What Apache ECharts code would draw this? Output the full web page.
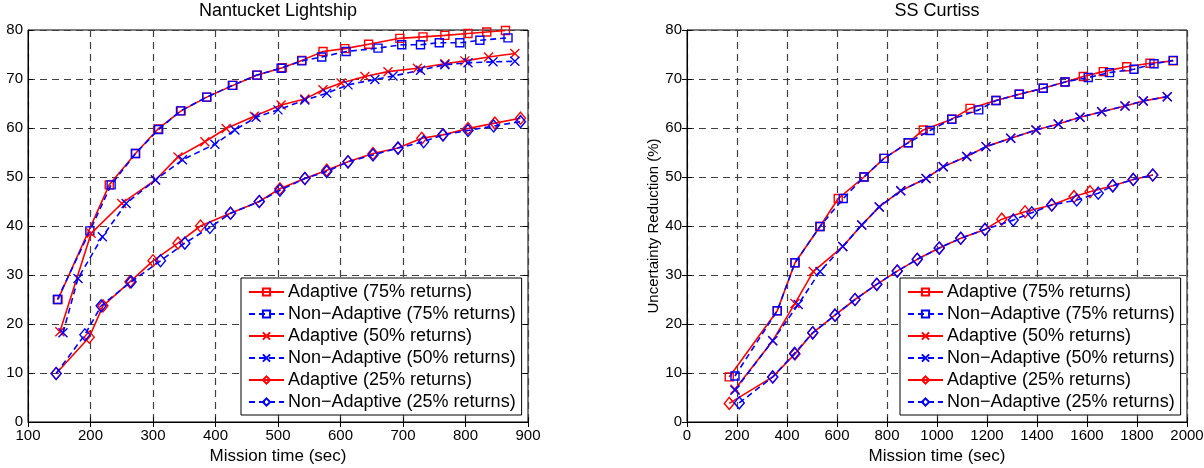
<!DOCTYPE html>
<html>
<head>
<meta charset="utf-8">
<script src="https://cdn.jsdelivr.net/npm/echarts@6/dist/echarts.min.js"></script>
<style>
html,body{margin:0;padding:0;background:#fff;}
#chart{width:1204px;height:468px;}
</style>
</head>
<body>
<div id="chart"></div>
<script>
// ---------- Data ----------
const seriesNames = [
  'Adaptive (75% returns)',
  'Non\u2212Adaptive (75% returns)',
  'Adaptive (50% returns)',
  'Non\u2212Adaptive (50% returns)',
  'Adaptive (25% returns)',
  'Non\u2212Adaptive (25% returns)'
];
const chartTitles = ['Nantucket Lightship', 'SS Curtiss'];
const xAxisName = 'Mission time (sec)';
const yAxisNameRight = 'Uncertainty Reduction (%)';
const nlXTicks = [100, 200, 300, 400, 500, 600, 700, 800, 900];
const ssXTicks = [0, 200, 400, 600, 800, 1000, 1200, 1400, 1600, 1800, 2000];
const yTicks = [0, 10, 20, 30, 40, 50, 60, 70, 80];

// Nantucket Lightship: [mission time (sec), uncertainty reduction (%)]
const nlAdaptive75 = [[148,25],[230,48.4],[272,54.8],[308,59.8],[345,63.5],[386,66.3],[428,68.7],[467,70.8],[507,72.3],[538,73.8],[572,75.6],[607,76.2],[645,77.1],[695,78.3],[732,78.6],[767,78.9],[804,79.3],[834,79.6],[864,79.9]];
const nlNonAdaptive75 = [[147,25],[199,39],[233,48.4],[272,54.8],[309,59.7],[344,63.5],[386,66.3],[427,68.7],[466,70.8],[505,72.2],[538,73.7],[570,74.5],[609,75.6],[660,76.3],[698,77],[728,77],[758,77.4],[791,77.4],[823,77.9],[868,78.4]];
const nlAdaptive50 = [[151,18.4],[201,38.5],[250,44.6],[304,49.4],[340,54.1],[383,57.2],[417,59.9],[462,62.4],[505,64.7],[543,65.9],[572,67.8],[601,69.2],[639,70.5],[676,71.5],[723,72.2],[767,73.1],[799,73.7],[837,74.5],[879,75.2]];
const nlNonAdaptive50 = [[156,18.2],[180,29.3],[219,37.8],[257,44.6],[304,49.4],[347,53.5],[399,56.7],[431,59.6],[465,62.2],[500,63.7],[543,65.7],[578,67.1],[612,68.8],[655,69.9],[684,70.6],[728,71.8],[767,72.9],[804,73.3],[844,73.5],[879,73.6]];
const nlAdaptive25 = [[145,9.9],[198,17.3],[220,23.7],[263,28.6],[300,32.9],[340,36.5],[376,40],[424,42.6],[470,45],[503,47.6],[543,49.7],[578,51.4],[612,53.1],[652,54.8],[692,55.9],[730,57.9],[764,58.6],[804,59.9],[847,61],[888,62]];
const nlNonAdaptive25 = [[145,9.9],[191,17.8],[217,23.7],[265,28.6],[312,32.9],[351,36.5],[391,39.7],[424,42.6],[470,45],[503,47.3],[543,49.7],[578,51.1],[612,53.1],[652,54.5],[692,55.9],[733,57.2],[764,58.6],[804,59.5],[845,60.4],[888,61.3]];

// SS Curtiss
const ssAdaptive75 = [[169,9.2],[361,22.7],[432,32.5],[532,39.9],[605,45.6],[708,50],[788,53.8],[885,57],[945,59.6],[1059,61.8],[1132,64],[1236,65.6],[1329,66.9],[1425,68.1],[1512,69.4],[1585,70.5],[1665,71.5],[1759,72.5],[1852,73.2],[1945,73.7]];
const ssNonAdaptive75 = [[192,9.4],[361,22.7],[432,32.5],[532,39.9],[625,45.6],[708,50],[788,53.8],[885,57],[972,59.5],[1059,61.8],[1167,63.7],[1236,65.6],[1329,66.9],[1425,68.1],[1512,69.4],[1605,70.3],[1690,71.3],[1788,72],[1868,73.1],[1945,73.8]];
const ssAdaptive50 = [[192,6.7],[343,16.6],[432,24.2],[505,30.7],[623,35.8],[699,40.2],[769,43.9],[855,47.2],[956,49.7],[1025,52.1],[1119,54.2],[1196,56.2],[1295,57.9],[1396,59.6],[1485,60.8],[1572,62.2],[1659,63.3],[1752,64.5],[1825,65.5],[1921,66.4]];
const ssNonAdaptive50 = [[192,6.5],[343,16.6],[445,24],[532,30.7],[623,35.8],[699,40.2],[769,43.9],[855,47.2],[956,49.7],[1025,52.1],[1119,54.2],[1196,56.2],[1295,57.9],[1396,59.6],[1485,60.8],[1572,62.2],[1659,63.3],[1752,64.5],[1825,65.5],[1921,66.4]];
const ssAdaptive25 = [[169,3.8],[343,9.2],[432,13.9],[503,18.2],[592,21.8],[672,25],[759,28.1],[841,30.8],[921,33.2],[1009,35.5],[1095,37.5],[1192,39.3],[1259,41.4],[1352,42.9],[1459,44.3],[1548,46],[1612,47],[1703,48.2],[1785,49.5],[1863,50.4]];
const ssNonAdaptive25 = [[209,3.9],[343,9.2],[430,14],[503,18.2],[592,21.8],[672,25],[759,28.1],[841,30.8],[921,33.2],[1009,35.5],[1095,37.5],[1192,39.3],[1305,41.2],[1379,42.7],[1459,44.3],[1559,45.3],[1645,46.7],[1703,48.2],[1785,49.5],[1863,50.4]];

// ---------- Styling ----------
const FONT = 'Liberation Sans';
const RED = '#ff0000', BLUE = '#0000ff';
const XMARK = 'path://M0,0L10,10M10,0L0,10';
const styles = [
  {color: RED,  dashed: false, symbol: 'rect',    size: 8},
  {color: BLUE, dashed: true,  symbol: 'rect',    size: 8},
  {color: RED,  dashed: false, symbol: XMARK,     size: 9},
  {color: BLUE, dashed: true,  symbol: XMARK,     size: 9},
  {color: RED,  dashed: false, symbol: 'diamond', size: [10, 12]},
  {color: BLUE, dashed: true,  symbol: 'diamond', size: [10, 12]}
];

function makeSeries(dataList, axisIndex) {
  return dataList.map((d, i) => {
    const s = styles[i];
    return {
      type: 'line',
      name: seriesNames[i],
      xAxisIndex: axisIndex,
      yAxisIndex: axisIndex,
      data: d,
      symbol: s.symbol,
      symbolSize: s.size,
      showSymbol: true,
      color: s.color,
      lineStyle: {color: s.color, width: 1.6, type: s.dashed ? [6, 4] : 'solid'},
      itemStyle: {color: 'rgba(255,255,255,0)', borderColor: s.color, borderWidth: 1.4},
      emphasis: {disabled: true},
      z: 2 + i
    };
  });
}

const grids = [
  {left: 28, top: 30, width: 500, height: 392},
  {left: 687, top: 30, width: 500, height: 392}
];

function xAx(gridIndex, ticks, withName) {
  return {
    type: 'value', gridIndex: gridIndex,
    min: ticks[0], max: ticks[ticks.length - 1], interval: ticks[1] - ticks[0],
    name: withName ? xAxisName : '', nameLocation: 'middle', nameGap: 25,
    nameTextStyle: {fontFamily: FONT, fontSize: 17, color: '#000'},
    axisLine: {show: true, lineStyle: {color: '#000', width: 1}},
    axisTick: {show: true, inside: true, length: 5, lineStyle: {color: '#000'}},
    axisLabel: {fontFamily: FONT, fontSize: 15, color: '#000', margin: 6,
                formatter: v => String(v)},
    splitLine: {show: true, lineStyle: {color: '#404040', width: 1.2, type: [7, 5]}}
  };
}
function yAx(gridIndex, withName) {
  return {
    type: 'value', gridIndex: gridIndex,
    min: yTicks[0], max: yTicks[yTicks.length - 1], interval: yTicks[1] - yTicks[0],
    name: withName ? yAxisNameRight : '', nameLocation: 'middle', nameGap: 21,
    nameTextStyle: {fontFamily: FONT, fontSize: 15, color: '#000'},
    axisLine: {show: true, lineStyle: {color: '#000', width: 1}},
    axisTick: {show: true, inside: true, length: 5, lineStyle: {color: '#000'}},
    axisLabel: {fontFamily: FONT, fontSize: 15, color: '#000', margin: 5},
    splitLine: {show: true, lineStyle: {color: '#404040', width: 1.2, type: [7, 5]}}
  };
}
function xTop(gridIndex, ticks) {
  return {
    type: 'value', gridIndex: gridIndex, position: 'top',
    min: ticks[0], max: ticks[ticks.length - 1], interval: ticks[1] - ticks[0],
    axisLine: {show: false}, axisLabel: {show: false}, splitLine: {show: false},
    axisTick: {show: true, inside: true, length: 5, lineStyle: {color: '#000'}}
  };
}
function yRight(gridIndex) {
  return {
    type: 'value', gridIndex: gridIndex, position: 'right',
    min: yTicks[0], max: yTicks[yTicks.length - 1], interval: yTicks[1] - yTicks[0],
    axisLine: {show: false}, axisLabel: {show: false}, splitLine: {show: false},
    axisTick: {show: true, inside: true, length: 5, lineStyle: {color: '#000'}}
  };
}

function legendAt(left) {
  return {
    show: true, orient: 'vertical', left: left, top: 278,
    data: seriesNames,
    itemWidth: 35, itemHeight: 9, itemGap: 4,
    padding: [5, 6, 4, 7],
    backgroundColor: '#fff', borderColor: '#000', borderWidth: 1, borderRadius: 0,
    selectedMode: false,
    textStyle: {fontFamily: FONT, fontSize: 18, lineHeight: 18, color: '#000', padding: [0, 0, 0, -1]}
  };
}

const chart = echarts.init(document.getElementById('chart'), null, {renderer: 'canvas'});
chart.setOption({
  animation: false,
  backgroundColor: '#fff',
  title: [
    {text: chartTitles[0], left: 278, top: 2, padding: 0, textAlign: 'center',
     textStyle: {fontFamily: FONT, fontSize: 18, fontWeight: 'normal', color: '#000'}},
    {text: chartTitles[1], left: 937, top: 2, padding: 0, textAlign: 'center',
     textStyle: {fontFamily: FONT, fontSize: 18, fontWeight: 'normal', color: '#000'}}
  ],
  legend: [legendAt(241), legendAt(900)],
  grid: grids.map(g => Object.assign({show: true, borderColor: '#000', borderWidth: 1,
    backgroundColor: '#fff', containLabel: false, outerBoundsMode: 'none'}, g)),
  xAxis: [xAx(0, nlXTicks, true), xAx(1, ssXTicks, true), xTop(0, nlXTicks), xTop(1, ssXTicks)],
  yAxis: [yAx(0, false), yAx(1, true), yRight(0), yRight(1)],
  series: [].concat(
    makeSeries([nlAdaptive75, nlNonAdaptive75, nlAdaptive50, nlNonAdaptive50, nlAdaptive25, nlNonAdaptive25], 0),
    makeSeries([ssAdaptive75, ssNonAdaptive75, ssAdaptive50, ssNonAdaptive50, ssAdaptive25, ssNonAdaptive25], 1)
  )
});
</script>
</body>
</html>
